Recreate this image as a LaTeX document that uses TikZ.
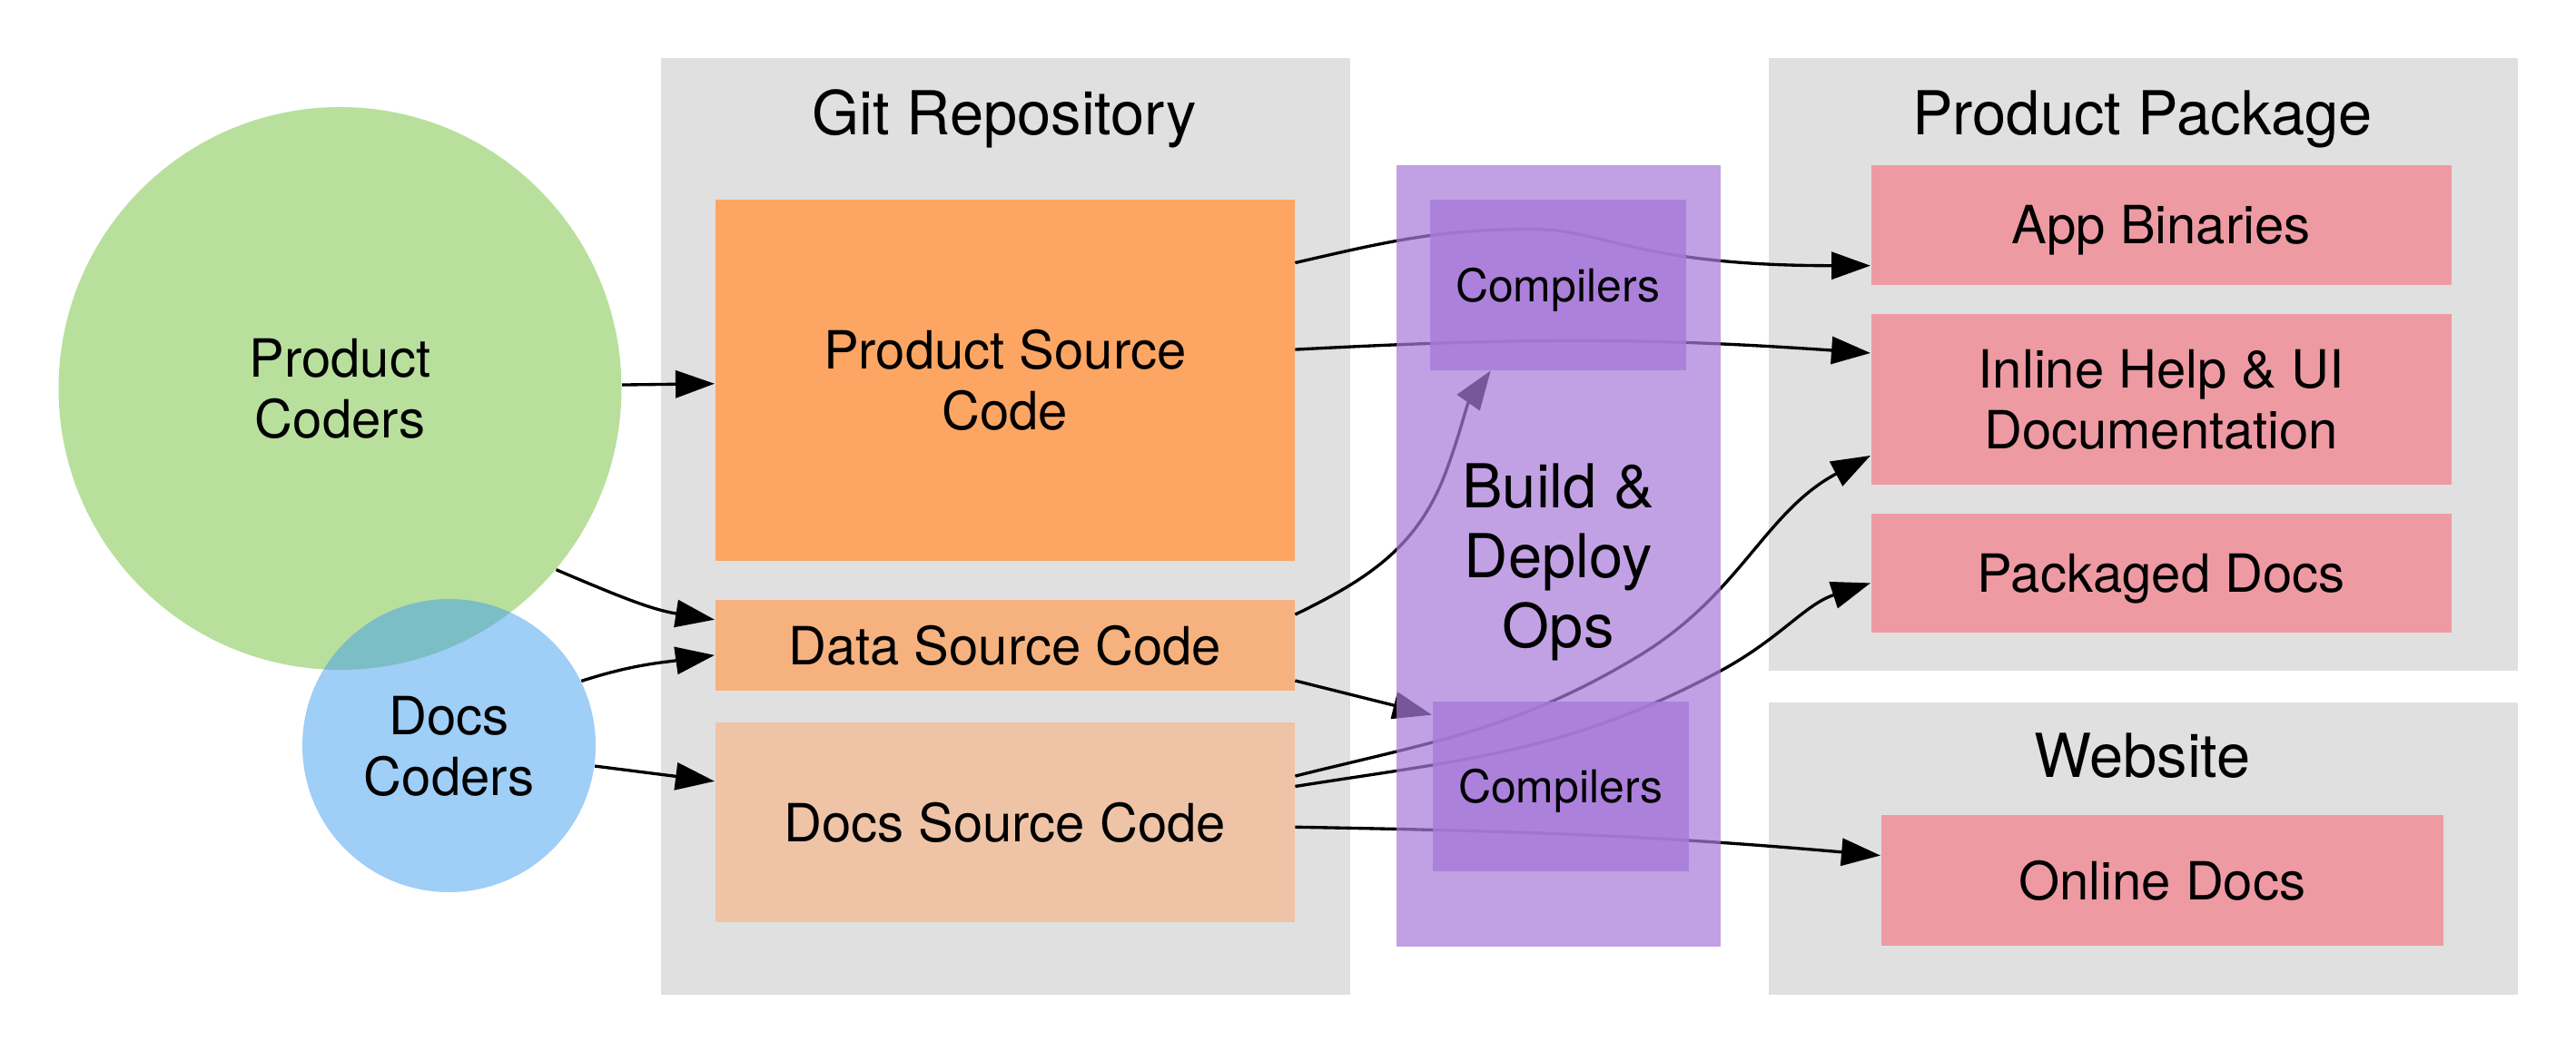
\documentclass[tikz,border=0pt]{standalone}
\usepackage{fontspec}
\setmainfont{TeX Gyre Heros}
\usetikzlibrary{arrows.meta}

\definecolor{areagray}{HTML}{E0E0E0}
\definecolor{codergreen}{HTML}{B8E09C}
\definecolor{coderblue}{HTML}{429EEF}
\definecolor{prodorange}{HTML}{FDA563}
\definecolor{dataorange}{HTML}{F6B27E}
\definecolor{docsorange}{HTML}{EFC4A6}
\definecolor{buildpurple}{HTML}{A87BD9}
\definecolor{outpink}{HTML}{EE9AA3}

\newcommand{\txtbody}{\fontsize{16.5}{19}\selectfont}
\newcommand{\txttitle}{\fontsize{19}{22}\selectfont}
\newcommand{\txtsmall}{\fontsize{14.2}{17}\selectfont}

\pgfdeclarelayer{front}
\pgfsetlayers{main,front}

\begin{document}
\begin{tikzpicture}[
    >={Triangle[length=4.3mm,width=3mm]},
    flow/.style={->,line width=0.95pt,color=black},
    area/.style={fill=areagray,anchor=north west,inner sep=0pt},
    block/.style={anchor=north west,inner sep=0pt,align=center,text depth=0pt,font=\txtbody},
    coder/.style={circle,inner sep=0pt,align=center,text depth=0pt,font=\txtbody},
    title/.style={font=\txttitle},
    build/.style={block,fill=buildpurple,text opacity=1}
    ]
    \useasboundingbox (0,0) rectangle (28.37,-11.58);

    % AREAS
    \node[area,minimum width=7.59cm,minimum height=10.32cm] (git) at (7.27,-0.63) {};
    \node[area,minimum width=8.25cm,minimum height=6.75cm] (pack) at (19.47,-0.63) {};
    \node[area,minimum width=8.25cm,minimum height=3.22cm] (web) at (19.47,-7.73) {};
    \node[title] (gitT) at (11.065,-1.31) {Git Repository};
    \node[title] (packT) at (23.595,-1.31) {Product Package};
    \node[title] (webT) at (23.595,-8.33) {Website};

    % CODERS
    \node[coder,fill=codergreen,minimum size=6.2cm] (pc) at (3.745,-4.28) {Product\\Coders};
    \node[coder,fill=coderblue,fill opacity=0.51,text opacity=1,minimum size=3.23cm]
        (dc) at (4.945,-8.215) {Docs\\Coders};

    % SOURCES
    \node[block,fill=prodorange,minimum width=6.38cm,minimum height=3.98cm]
        (psc) at (7.87,-2.19) {Product Source\\Code};
    \node[block,fill=dataorange,minimum width=6.38cm,minimum height=1.0cm]
        (dsrc) at (7.87,-6.60) {Data Source Code};
    \node[block,fill=docsorange,minimum width=6.38cm,minimum height=2.2cm]
        (dcsrc) at (7.87,-7.95) {Docs Source Code};

    % OUTPUTS
    \node[block,fill=outpink,minimum width=6.39cm,minimum height=1.32cm] (ab) at (20.60,-1.81) {App Binaries};
    \node[block,fill=outpink,minimum width=6.39cm,minimum height=1.88cm] (ih) at (20.60,-3.45) {Inline Help \& UI\\Documentation};
    \node[block,fill=outpink,minimum width=6.39cm,minimum height=1.31cm] (pd) at (20.60,-5.65) {Packaged Docs};
    \node[block,fill=outpink,minimum width=6.19cm,minimum height=1.44cm] (od) at (20.71,-8.97) {Online Docs};

    % BUILD & DEPLOY (on top of the flows)
    \begin{pgfonlayer}{front}
    \node[build,fill opacity=0.714,minimum width=3.57cm,minimum height=8.61cm,font=\txttitle]
        (bdo) at (15.37,-1.81) {Build \&\\Deploy\\Ops};
    \node[build,fill opacity=0.84,minimum width=2.82cm,minimum height=1.88cm,font=\txtsmall]
        (ct) at (15.74,-2.19) {Compilers};
    \node[build,fill opacity=0.84,minimum width=2.82cm,minimum height=1.87cm,font=\txtsmall]
        (cb) at (15.77,-7.72) {Compilers};
    \end{pgfonlayer}

    % FLOWS
    \draw[flow] (pc) -- (psc);
    \draw[flow] (pc.-40) to[out=-23,in=171] (dsrc.175);
    \draw[flow] (dc.26) to[out=18,in=188] (dsrc.182);
    \draw[flow] (dc.-8) -- (dcsrc.172);
    \draw[flow] (psc.22) to[out=13,in=180] ++(2.61,0.37)
        .. controls +(0.8,0) and +(-2.6,0) .. (ab.188);
    \draw[flow] (psc.6) to[out=3,in=176] (ih.171);
    \draw[flow] (dsrc.6) to[out=26,in=250] ++(1.67,1.6) to[out=70,in=235] (ct.232);
    \draw[flow] (dsrc.-7) -- (cb.151);
    \draw[flow] (dcsrc.9) to[out=14,in=211] ++(3.77,1.315) to[out=31,in=208] (ih.191);
    \draw[flow] (dcsrc.7) to[out=9,in=208] ++(4.66,1.26) to[out=28,in=198] (pd.182);
    \draw[flow] (dcsrc.-1) to[out=-1,in=175] (od.175);
\end{tikzpicture}
\end{document}
